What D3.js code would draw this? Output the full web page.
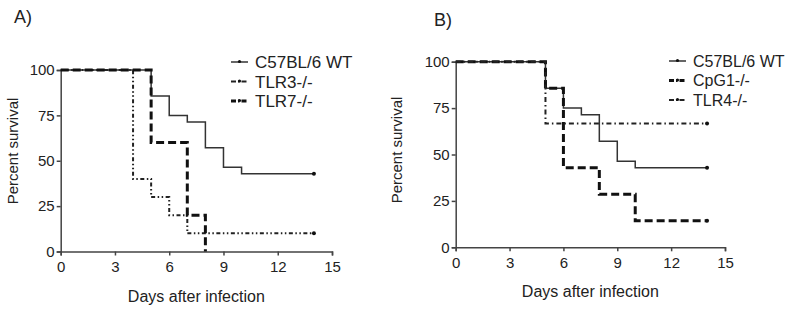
<!DOCTYPE html>
<html>
<head>
<meta charset="utf-8">
<script src="https://cdn.jsdelivr.net/npm/d3@7"></script>
<style>
  body { margin: 0; background: #fff; }
  text { font-family: "Liberation Sans", Arial, sans-serif; fill: #222; }
</style>
</head>
<body>
<svg id="chart" width="800" height="315"></svg>
<script>
// tick labels
const xTicks = [0, 3, 6, 9, 12, 15];
const yTicks = [0, 25, 50, 75, 100];

// panel A series (days, percent survival)
const wtA_days = [0, 5, 6, 7, 8, 9, 10, 14];
const wtA_surv = [100, 85.7, 75, 71.4, 57.1, 46.4, 42.9, 42.9];
const tlr3_days = [0, 4, 5, 6, 7, 14];
const tlr3_surv = [100, 40, 30, 20, 10, 10];
const tlr7_days = [0, 5, 7, 8];
const tlr7_surv = [100, 60, 20, 0];

// panel B series
const wtB_days = [0, 5, 6, 7, 8, 9, 10, 14];
const wtB_surv = [100, 85.7, 75, 71.4, 57.1, 46.4, 42.9, 42.9];
const cpg1_days = [0, 5, 6, 8, 10, 14];
const cpg1_surv = [100, 85.7, 42.9, 28.6, 14.3, 14.3];
const tlr4_days = [0, 5, 14];
const tlr4_surv = [100, 66.7, 66.7];

const namesA = ["C57BL/6 WT", "TLR3-/-", "TLR7-/-"];
const namesB = ["C57BL/6 WT", "CpG1-/-", "TLR4-/-"];

// line styles
const styles = {
  wt:   { width: 1.5, dash: null, color: "#333" },
  tlr3: { width: 2, dash: "4,2.5,1.5,2.5,1.5,2.5", color: "#222" },
  tlr7: { width: 3, dash: "8,4", color: "#111" },
  cpg1: { width: 3, dash: "8,4", color: "#111" },
  tlr4: { width: 2, dash: "5,3,1.5,3", color: "#222" }
};

const svg = d3.select("#chart");

function zip(days, surv) {
  return days.map((d, i) => ({ day: d, surv: surv[i] }));
}

function panel(cfg) {
  const x = d3.scaleLinear().domain([0, 15]).range([cfg.x0, cfg.x1]);
  const y = d3.scaleLinear().domain([0, 100]).range([cfg.y0, cfg.y1]);
  const g = svg.append("g");

  const yAxis = g.append("g")
    .attr("transform", `translate(${cfg.x0},0)`)
    .call(d3.axisLeft(y).tickValues(yTicks).tickSize(4).tickPadding(2));
  const xAxis = g.append("g")
    .attr("transform", `translate(0,${cfg.y0})`)
    .call(d3.axisBottom(x).tickValues(xTicks).tickSize(4).tickPadding(6));

  [xAxis, yAxis].forEach(a => {
    a.selectAll("path, line").attr("stroke", "#444").attr("stroke-width", 1.5);
    a.selectAll("text").attr("font-size", 15).attr("fill", "#222");
  });

  const line = d3.line()
    .x(d => x(d.day))
    .y(d => y(d.surv))
    .curve(d3.curveStepAfter);

  cfg.series.forEach(s => {
    const st = styles[s.key];
    const pts = zip(s.days, s.surv);
    g.append("path")
      .attr("d", line(pts))
      .attr("fill", "none")
      .attr("stroke", st.color)
      .attr("stroke-width", st.width)
      .attr("stroke-dasharray", st.dash);
    const last = pts[pts.length - 1];
    if (last.surv > 0) {
      g.append("circle")
        .attr("cx", x(last.day))
        .attr("cy", y(last.surv))
        .attr("r", 2)
        .attr("fill", "#111");
    }
  });

  // legend
  cfg.series.forEach((s, i) => {
    const st = styles[s.key];
    const ly = cfg.legY + i * 19.5;
    g.append("line")
      .attr("x1", cfg.legX).attr("x2", cfg.legX + 17)
      .attr("y1", ly).attr("y2", ly)
      .attr("stroke", st.color)
      .attr("stroke-width", st.width)
      .attr("stroke-dasharray", st.dash ? "5,2,1.5,2" : null);
    g.append("circle")
      .attr("cx", cfg.legX + 8.5).attr("cy", ly - 0.5)
      .attr("r", 1.6).attr("fill", "#111");
    g.append("text")
      .attr("x", cfg.legX + 24)
      .attr("y", ly)
      .attr("dy", "0.36em")
      .attr("font-size", cfg.legFont)
      .text(s.name);
  });

  // axis titles
  g.append("text")
    .attr("x", (cfg.x0 + cfg.x1) / 2)
    .attr("y", cfg.xTitleY)
    .attr("text-anchor", "middle")
    .attr("font-size", 16)
    .text("Days after infection");
  g.append("text")
    .attr("transform", `translate(${cfg.yTitleX},${cfg.yTitleMid}) rotate(-90)`)
    .attr("text-anchor", "middle")
    .attr("font-size", 15)
    .text("Percent survival");

  g.append("text")
    .attr("x", cfg.labX)
    .attr("y", cfg.labY)
    .attr("font-size", 18)
    .text(cfg.label);
}

panel({
  label: "A)", labX: 14, labY: 23,
  x0: 60.7, x1: 332, y0: 251.5, y1: 70,
  legX: 231, legY: 62, legFont: 17,
  xTitleY: 302, yTitleX: 18, yTitleMid: 151,
  series: [
    { key: "wt", name: namesA[0], days: wtA_days, surv: wtA_surv },
    { key: "tlr3", name: namesA[1], days: tlr3_days, surv: tlr3_surv },
    { key: "tlr7", name: namesA[2], days: tlr7_days, surv: tlr7_surv }
  ]
});

panel({
  label: "B)", labX: 434, labY: 26,
  x0: 455.7, x1: 725, y0: 247.3, y1: 61.7,
  legX: 669, legY: 61, legFont: 16,
  xTitleY: 297, yTitleX: 402, yTitleMid: 150,
  series: [
    { key: "wt", name: namesB[0], days: wtB_days, surv: wtB_surv },
    { key: "cpg1", name: namesB[1], days: cpg1_days, surv: cpg1_surv },
    { key: "tlr4", name: namesB[2], days: tlr4_days, surv: tlr4_surv }
  ]
});
</script>
</body>
</html>
